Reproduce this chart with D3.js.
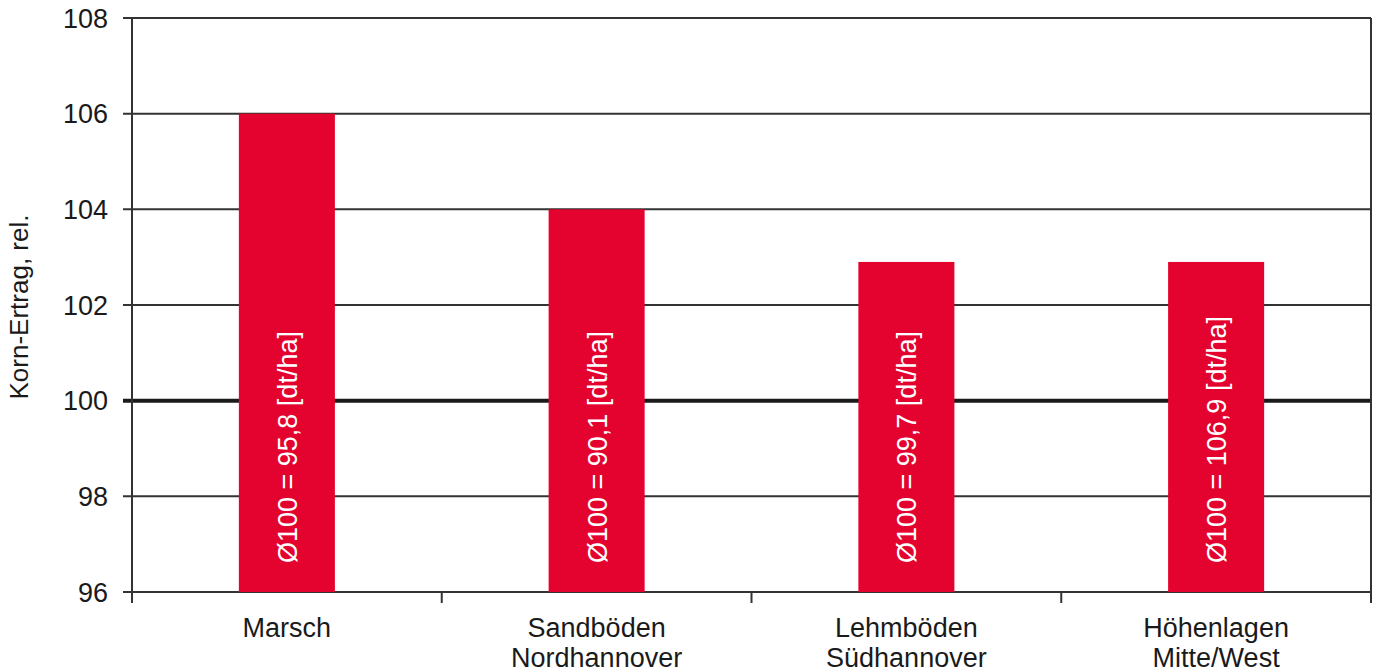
<!DOCTYPE html>
<html>
<head>
<meta charset="utf-8">
<script src="https://cdn.jsdelivr.net/npm/d3@7"></script>
<style>
  body { margin: 0; background: #fff; }
  svg { display: block; font-family: "Liberation Sans", Arial, sans-serif; }
</style>
</head>
<body>
<div id="chart"></div>
<script>
// data
const regions = ["Marsch", "Sandböden\nNordhannover", "Lehmböden\nSüdhannover", "Höhenlagen\nMitte/West"];
const relYield = [106, 104, 102.9, 102.9];
const baseYield = ["95,8", "90,1", "99,7", "106,9"];
const yTicks = [96, 98, 100, 102, 104, 106, 108];

const width = 1379, height = 672;
const margin = {top: 18, right: 8, bottom: 80, left: 132};

const svg = d3.select("#chart").append("svg")
  .attr("width", width)
  .attr("height", height);

const x = d3.scaleBand()
  .domain(regions)
  .range([margin.left, width - margin.right])
  .paddingInner(0.69)
  .paddingOuter(0.345);

const y = d3.scaleLinear()
  .domain([96, 108])
  .range([height - margin.bottom, margin.top]);

const x0 = margin.left, x1 = width - margin.right;
const yBottom = y(96), yTop = y(108);

//gridlines with short ticks to the left
svg.append("g")
  .selectAll("line")
  .data(yTicks)
  .join("line")
  .attr("x1", x0 - 9)
  .attr("x2", x1)
  .attr("y1", d => y(d))
  .attr("y2", d => y(d))
  .attr("stroke", d => d === 100 ? "#1a1a1a" : "#333")
  .attr("stroke-width", d => d === 100 ? 4 : 2);

//left axis and right border
svg.append("line")
  .attr("x1", x0).attr("x2", x0)
  .attr("y1", yTop).attr("y2", yBottom + 11)
  .attr("stroke", "#333").attr("stroke-width", 2);
svg.append("line")
  .attr("x1", x1).attr("x2", x1)
  .attr("y1", yTop).attr("y2", yBottom + 11)
  .attr("stroke", "#333").attr("stroke-width", 2);

//category separators below the axis
const step = x.step();
const seps = d3.range(regions.length - 1).map(i => x0 + step * (i + 1));
svg.append("g")
  .selectAll("line")
  .data(seps)
  .join("line")
  .attr("x1", d => d).attr("x2", d => d)
  .attr("y1", yBottom).attr("y2", yBottom + 11)
  .attr("stroke", "#333").attr("stroke-width", 2);

//y tick labels
svg.append("g")
  .selectAll("text")
  .data(yTicks)
  .join("text")
  .attr("x", x0 - 24)
  .attr("y", d => y(d))
  .attr("dy", "0.36em")
  .attr("text-anchor", "end")
  .attr("font-size", 27)
  .attr("fill", "#1a1a1a")
  .text(d => d);

//bars
svg.append("g")
  .selectAll("rect")
  .data(regions)
  .join("rect")
  .attr("x", d => x(d))
  .attr("width", x.bandwidth())
  .attr("y", (d, i) => y(relYield[i]))
  .attr("height", (d, i) => yBottom - y(relYield[i]))
  .attr("fill", "#e4032e");

//bar labels, rotated
svg.append("g")
  .selectAll("text")
  .data(regions)
  .join("text")
  .attr("transform", d => `translate(${x(d) + x.bandwidth() / 2 + 10},${yBottom - 29}) rotate(-90)`)
  .attr("font-size", 27)
  .attr("fill", "#fff")
  .text((d, i) => `Ø100 = ${baseYield[i]} [dt/ha]`);

//category labels
const cat = svg.append("g")
  .selectAll("text")
  .data(regions)
  .join("text")
  .attr("text-anchor", "middle")
  .attr("font-size", 27)
  .attr("fill", "#1a1a1a");
cat.selectAll("tspan")
  .data(d => d.split("\n").map(s => ({s, c: x(d) + x.bandwidth() / 2})))
  .join("tspan")
  .attr("x", d => d.c)
  .attr("y", (d, i) => 637 + i * 30)
  .text(d => d.s);

//y axis title
svg.append("text")
  .attr("transform", `translate(28,${(yTop + yBottom) / 2 + 2}) rotate(-90)`)
  .attr("text-anchor", "middle")
  .attr("font-size", 26)
  .attr("fill", "#1a1a1a")
  .text("Korn-Ertrag, rel.");
</script>
</body>
</html>
